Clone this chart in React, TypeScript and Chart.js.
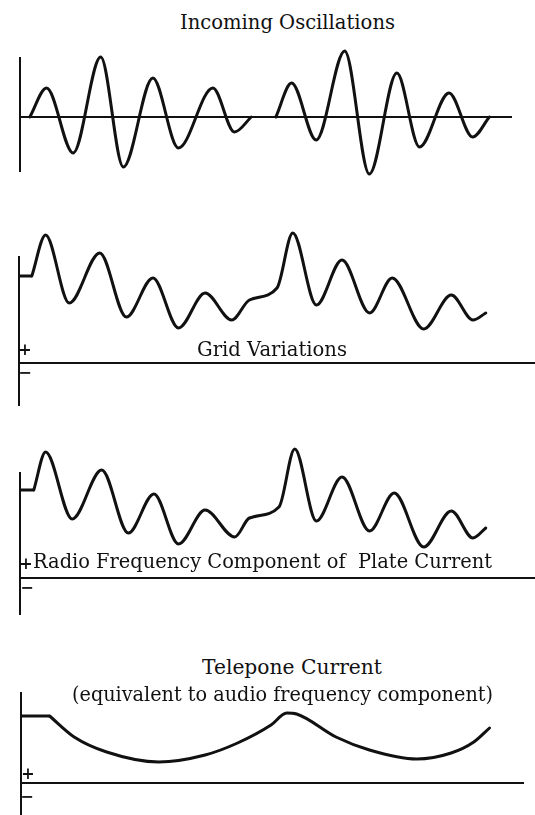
import React, { useEffect, useMemo, useRef } from 'react';
import { Chart, registerables } from 'chart.js';

Chart.register(...registerables);

// ---------- data (time in arbitrary units from the vertical axis, amplitude above the zero line) ----------
// Incoming oscillations: two wave trains separated by a pause (null = no signal drawn)
const incomingTime = [10, 27, 54, 82, 105, 135, 161, 196, 218, 235, 248, 260, 276, 301, 330, 355, 383, 406, 436, 460, 477];
const incomingAmp = [0, 29, -36, 60, -50, 39, -31, 29, -15, 0, null, 0, 34, -23, 66, -57, 44, -30, 24, -20, 0];

// Grid variations: steady level before the signal, then the varying grid potential
const gridStepTime = [0, 13];
const gridStepAmp = [87, 87];
const gridTime = [13, 27, 51, 82, 109, 136, 162, 189, 216, 234, 262, 278, 302, 328, 356, 379, 411, 439, 461, 474];
const gridAmp = [87, 128, 60, 110, 46, 85, 35, 70, 43, 63, 75, 130, 58, 103, 50, 85, 34, 68, 43, 50];

// Radio frequency component of plate current
const plateStepTime = [0, 14];
const plateStepAmp = [88, 88];
const plateTime = [14, 26, 53, 83, 110, 136, 161, 188, 218, 233, 263, 279, 301, 327, 355, 380, 410, 438, 460, 473];
const plateAmp = [88, 126, 59, 108, 45, 84, 34, 68, 41, 60, 71, 129, 57, 101, 47, 85, 31, 67, 40, 50];

// Telephone current
const phoneStepTime = [0, 29];
const phoneStepAmp = [67, 67];
const phoneTime = [29, 54, 87, 140, 187, 220, 254, 270, 280, 320, 354, 402, 437, 460, 476];
const phoneAmp = [67, 46, 31, 21, 28, 40, 58, 70, 69, 46, 33, 24, 30, 41, 55];

// ---------- labels ----------
const titleIncoming = 'Incoming Oscillations';
const titleGrid = 'Grid Variations';
const titlePlate = 'Radio Frequency Component of  Plate Current';
const titlePhone1 = 'Telepone Current';
const titlePhone2 = '(equivalent to audio frequency component)';

const FONT = '"DejaVu Serif", "Liberation Serif", serif';
const INK = '#111111';

type PanelProps = {
  top: number;
  height: number;
  axisX: number;
  axisTop: number;
  axisBottom: number;
  lineEnd: number;
  yMin: number;
  yMax: number;
  xMax: number;
  time: number[];
  amp: (number | null)[];
  stepTime?: number[];
  stepAmp?: number[];
};

function Panel(p: PanelProps) {
  const ref = useRef<HTMLCanvasElement>(null);
  useEffect(() => {
    const canvas = ref.current!;
    const datasets: any[] = [
      {
        data: p.time.map((x, i) => ({ x, y: p.amp[i] })),
        borderColor: INK,
        borderWidth: 3,
        pointRadius: 0,
        fill: false,
        cubicInterpolationMode: 'monotone',
        spanGaps: false,
        clip: false,
        borderJoinStyle: 'round',
        borderCapStyle: 'round',
      },
    ];
    if (p.stepTime && p.stepAmp) {
      datasets.push({
        data: p.stepTime.map((x, i) => ({ x, y: p.stepAmp![i] })),
        borderColor: INK,
        borderWidth: 3,
        pointRadius: 0,
        fill: false,
        tension: 0,
        clip: false,
        borderJoinStyle: 'round',
        borderCapStyle: 'butt',
      });
    }
    const chart = new Chart(canvas, {
      type: 'line',
      data: { datasets },
      options: {
        animation: false,
        responsive: false,
        maintainAspectRatio: false,
        events: [],
        layout: {
          padding: {
            left: p.axisX,
            right: 535 - p.lineEnd,
            top: p.axisTop - p.top,
            bottom: p.top + p.height - p.axisBottom,
          },
        },
        plugins: {
          legend: { display: false },
          tooltip: { enabled: false },
          title: { display: false },
        },
        scales: {
          x: {
            type: 'linear',
            min: 0,
            max: p.xMax,
            position: { y: 0 } as any,
            grid: { display: false },
            ticks: { display: false },
            border: { display: true, color: INK, width: 2 },
          },
          y: {
            type: 'linear',
            min: p.yMin,
            max: p.yMax,
            grid: { display: false },
            ticks: { display: false },
            border: { display: true, color: INK, width: 2 },
          },
        },
      },
    });
    return () => chart.destroy();
  }, []);
  return (
    <canvas
      ref={ref}
      width={535}
      height={p.height}
      style={{ position: 'absolute', left: 0, top: p.top, width: 535, height: p.height }}
    />
  );
}

function measure(text: string, size: number, weight = 'normal') {
  const ctx = document.createElement('canvas').getContext('2d')!;
  ctx.font = `${weight} ${size}px ${FONT}`;
  return ctx.measureText(text);
}

function Label({ text, left, right, baseline, size = 20 }: { text: string; left: number; right: number; baseline: number; size?: number }) {
  const info = useMemo(() => {
    const m = measure(text, size);
    const sx = (right - left) / m.width;
    const asc = m.fontBoundingBoxAscent;
    const desc = m.fontBoundingBoxDescent;
    const top = baseline - ((size - (asc + desc)) / 2 + asc);
    return { sx, top };
  }, [text, left, right, baseline, size]);
  return (
    <div
      style={{
        position: 'absolute',
        left,
        top: info.top,
        fontFamily: FONT,
        fontSize: size,
        lineHeight: `${size}px`,
        whiteSpace: 'pre',
        color: INK,
        transform: `scaleX(${info.sx})`,
        transformOrigin: '0 0',
      }}
    >
      {text}
    </div>
  );
}

function Sign({ text, cx, cy, size = 16 }: { text: string; cx: number; cy: number; size?: number }) {
  const info = useMemo(() => {
    const m = measure(text, size, 'bold');
    const asc = m.fontBoundingBoxAscent;
    const desc = m.fontBoundingBoxDescent;
    const glyphMid = (m.actualBoundingBoxAscent - m.actualBoundingBoxDescent) / 2;
    const baseline = cy + glyphMid;
    const top = baseline - ((size - (asc + desc)) / 2 + asc);
    return { top };
  }, [text, cx, cy, size]);
  return (
    <div
      style={{
        position: 'absolute',
        left: cx - 15,
        width: 30,
        textAlign: 'center',
        top: info.top,
        fontFamily: FONT,
        fontWeight: 'bold',
        fontSize: size,
        lineHeight: `${size}px`,
        color: INK,
      }}
    >
      {text}
    </div>
  );
}

export default function App() {
  return (
    <div style={{ position: 'absolute', left: 0, top: 0, width: 535, height: 815, background: '#fff', overflow: 'hidden' }}>
      <Panel top={40} height={150} axisX={12} axisTop={58} axisBottom={171} lineEnd={511} yMin={-54} yMax={59} xMax={499} time={incomingTime} amp={incomingAmp} />
      <Panel top={220} height={195} axisX={11} axisTop={257} axisBottom={405} lineEnd={535} yMin={-42} yMax={106} xMax={524} time={gridTime} amp={gridAmp} stepTime={gridStepTime} stepAmp={gridStepAmp} />
      <Panel top={430} height={190} axisX={12} axisTop={473} axisBottom={614} lineEnd={535} yMin={-36} yMax={105} xMax={523} time={plateTime} amp={plateAmp} stepTime={plateStepTime} stepAmp={plateStepAmp} />
      <Panel top={688} height={127} axisX={13} axisTop={693} axisBottom={815} lineEnd={523} yMin={-32} yMax={90} xMax={510} time={phoneTime} amp={phoneAmp} stepTime={phoneStepTime} stepAmp={phoneStepAmp} />

      <Label text={titleIncoming} left={180} right={395} baseline={29} />
      <Label text={titleGrid} left={197} right={347} baseline={356} />
      <Sign text="+" cx={25} cy={350} />
      <Sign text="−" cx={25} cy={373} />
      <Sign text="+" cx={26} cy={564} />
      <Label text={titlePlate} left={33} right={492} baseline={568} />
      <Sign text="−" cx={27} cy={588} />
      <Label text={titlePhone1} left={202} right={382} baseline={674} />
      <Label text={titlePhone2} left={72} right={493} baseline={701} />
      <Sign text="+" cx={28} cy={774} />
      <Sign text="−" cx={27} cy={797} />
    </div>
  );
}
